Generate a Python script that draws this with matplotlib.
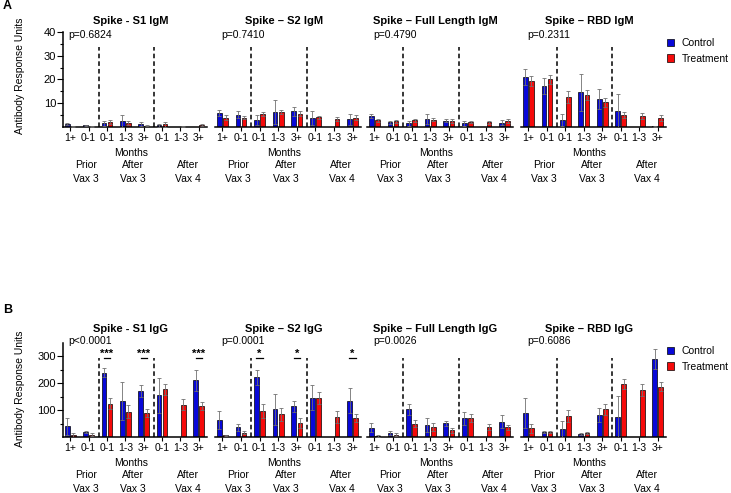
import numpy as np
import matplotlib
matplotlib.use('Agg')
import matplotlib.pyplot as plt
from matplotlib.transforms import blended_transform_factory
from matplotlib.patches import Patch

plt.rcParams['font.family'] = ['Liberation Sans', 'DejaVu Sans']

nan = np.nan
cats = ['1+', '0-1', '0-1', '1-3', '3+', '0-1', '1-3', '3+']
groups = ['Prior\nVax 3', 'After\nVax 3', 'After\nVax 4']

# IgM panel (A)
igm_titles = ['Spike - S1 IgM', 'Spike \u2013 S2 IgM', 'Spike \u2013 Full Length IgM', 'Spike \u2013 RBD IgM']
igm_p = ['p=0.6824', 'p=0.7410', 'p=0.4790', 'p=0.2311']
s1_igm_ctrl = [1.3, 0.7, 1.5, 2.7, 1.3, 0.7, nan, nan]
s1_igm_ctrl_err = [0.5, 0.3, 1.2, 2.5, 0.8, 0.6, nan, nan]
s1_igm_trt = [0.2, 0.2, 2.0, 1.8, 0.6, 1.1, 0.2, 0.8]
s1_igm_trt_err = [0.1, 0.1, 0.8, 0.8, 0.3, 1.0, 0.1, 0.4]
s2_igm_ctrl = [5.8, 5.2, 3.1, 6.2, 6.6, 3.7, nan, 3.2]
s2_igm_ctrl_err = [1.3, 1.4, 2.1, 5.1, 1.8, 2.9, nan, 2.4]
s2_igm_trt = [3.9, 3.9, 5.5, 6.3, 5.6, 4.1, 3.2, 3.9]
s2_igm_trt_err = [1.1, 0.7, 1.0, 0.7, 1.0, 0.6, 0.8, 1.0]
fl_igm_ctrl = [4.6, 2.0, 1.5, 3.2, 2.7, 1.5, nan, 1.8]
fl_igm_ctrl_err = [0.7, 0.7, 1.0, 2.1, 0.8, 1.0, nan, 1.1]
fl_igm_trt = [2.8, 2.4, 2.8, 3.1, 2.5, 2.1, 2.0, 2.5]
fl_igm_trt_err = [0.7, 0.6, 0.7, 0.7, 0.7, 0.6, 0.6, 0.7]
rbd_igm_ctrl = [21.1, 17.3, 3.1, 14.6, 11.7, 6.8, nan, 0.4]
rbd_igm_ctrl_err = [3.5, 3.4, 2.5, 7.7, 4.2, 7.1, nan, 0.2]
rbd_igm_trt = [19.3, 20.1, 12.7, 13.5, 10.4, 5.1, 4.6, 3.8]
rbd_igm_trt_err = [2.0, 2.0, 2.4, 2.0, 2.0, 1.4, 1.3, 1.1]

# IgG panel (B)
igg_titles = ['Spike - S1 IgG', 'Spike \u2013 S2 IgG', 'Spike \u2013 Full Length IgG', 'Spike \u2013 RBD IgG']
igg_p = ['p<0.0001', 'p=0.0001', 'p=0.0026', 'p=0.6086']
s1_igg_ctrl = [40, 19, 238, 134, 170, 154, nan, 211]
s1_igg_ctrl_err = [32, 5, 16, 71, 21, 66, nan, 39]
s1_igg_trt = [7, 9, 123, 94, 90, 176, 119, 114]
s1_igg_trt_err = [9, 5, 21, 24, 15, 19, 20, 15]
s2_igg_ctrl = [62, 37, 221, 103, 114, 146, nan, 134]
s2_igg_ctrl_err = [33, 13, 29, 58, 21, 46, nan, 46]
s2_igg_trt = [6, 16, 97, 84, 53, 143, 74, 71]
s2_igg_trt_err = [3, 6, 27, 25, 18, 22, 21, 16]
fl_igg_ctrl = [35, 14, 102, 46, 51, 69, nan, 57]
fl_igg_ctrl_err = [18, 7, 19, 26, 10, 25, nan, 24]
fl_igg_trt = [4, 9, 50, 38, 25, 69, 38, 36]
fl_igg_trt_err = [3, 4, 14, 15, 10, 15, 12, 9]
rbd_igg_ctrl = [89, 20, 31, 10, 82, 74, nan, 289]
rbd_igg_ctrl_err = [54, 4, 30, 4, 27, 78, nan, 37]
rbd_igg_trt = [32, 19, 77, 14, 102, 196, 175, 187]
rbd_igg_trt_err = [18, 4, 22, 3, 19, 18, 23, 16]

sig_s1 = {2: '***', 4: '***', 7: '***'}
sig_s2 = {2: '*', 4: '*', 7: '*'}

igm_data = [(s1_igm_ctrl, s1_igm_ctrl_err, s1_igm_trt, s1_igm_trt_err, None),
            (s2_igm_ctrl, s2_igm_ctrl_err, s2_igm_trt, s2_igm_trt_err, None),
            (fl_igm_ctrl, fl_igm_ctrl_err, fl_igm_trt, fl_igm_trt_err, None),
            (rbd_igm_ctrl, rbd_igm_ctrl_err, rbd_igm_trt, rbd_igm_trt_err, None)]
igg_data = [(s1_igg_ctrl, s1_igg_ctrl_err, s1_igg_trt, s1_igg_trt_err, sig_s1),
            (s2_igg_ctrl, s2_igg_ctrl_err, s2_igg_trt, s2_igg_trt_err, sig_s2),
            (fl_igg_ctrl, fl_igg_ctrl_err, fl_igg_trt, fl_igg_trt_err, None),
            (rbd_igg_ctrl, rbd_igg_ctrl_err, rbd_igg_trt, rbd_igg_trt_err, None)]

BLUE = '#0808d8'
RED = '#f50a0a'
W, H = 731, 493
fig = plt.figure(figsize=(W/100, H/100), dpi=100)

cols = [(63, 207), (215, 361), (367, 513), (521, 666)]
x = np.arange(len(cats))
off = 0.165
bw = 0.25


def draw_bars(ax, vals, errs, dx, color):
    v = np.array(vals, float)
    e = np.array(errs, float)
    ok = ~np.isnan(v)
    ax.bar(x[ok] + dx, v[ok], bw, color=color, edgecolor='black', linewidth=0.5, zorder=2)
    ax.errorbar(x[ok] + dx, v[ok], yerr=e[ok], ecolor='#707070', elinewidth=0.6,
                capsize=1.5, capthick=0.6, zorder=3, linestyle='none')


def panel(ytop, ybot, titles, pvals, data, ymax, yticks, minor, sig_y, ptop, tgap):
    axh = ybot - ytop
    for i, (x0, x1) in enumerate(cols):
        ax = fig.add_axes([x0/W, 1 - ybot/H, (x1 - x0)/W, axh/H])
        ctrl, ctrl_e, trt, trt_e, sig = data[i]
        draw_bars(ax, ctrl, ctrl_e, -off, BLUE)
        draw_bars(ax, trt, trt_e, off, RED)
        ax.set_xlim(-0.4, 7.45)
        ax.set_ylim(0, ymax)
        for xv in (1.55, 4.55):
            ax.axvline(xv, ymin=0, ymax=0.84, color='black', linestyle=(0, (3, 2)), linewidth=1.1)
        for s in ('top', 'right'):
            ax.spines[s].set_visible(False)
        ax.spines['bottom'].set_linewidth(1.1)
        ax.set_xticks(x)
        ax.set_xticklabels(cats, fontsize=7.5)
        ax.tick_params(axis='x', length=3, width=0.8, pad=1.5)
        if i == 0:
            ax.spines['left'].set_linewidth(1.1)
            ax.set_yticks(yticks)
            ax.set_yticks(minor, minor=True)
            ax.tick_params(axis='y', which='major', length=4, width=0.8, labelsize=8, pad=1)
            ax.tick_params(axis='y', which='minor', length=2, width=0.8)
        else:
            ax.spines['left'].set_visible(False)
            ax.set_yticks([])
        ax.text(0.47, 1 + tgap/axh, titles[i], transform=ax.transAxes, ha='center', va='center',
                fontsize=8, fontweight='bold')
        ax.text(0.04, ptop, pvals[i], transform=ax.transAxes, ha='left', va='center', fontsize=7.5)
        if sig:
            for k, lab in sig.items():
                ax.plot([k - 0.17, k + 0.17], [sig_y, sig_y], color='black', lw=0.9, clip_on=False)
                ax.text(k, sig_y + 4, lab, ha='center', va='baseline', fontsize=8, fontweight='bold')
        tr = blended_transform_factory(ax.transData, ax.transAxes)
        ax.text(3.3, -26/axh, 'Months', transform=tr, ha='center', va='center', fontsize=7.5)
        for gx, g in zip((0.85, 3.43, 6.4), groups):
            top, bot = g.split('\n')
            ax.text(gx, -38.5/axh, top, transform=tr, ha='center', va='center', fontsize=7.5)
            ax.text(gx, -52.5/axh, bot, transform=tr, ha='center', va='center', fontsize=7.5)


panel(32, 127, igm_titles, igm_p, igm_data, 40, [10, 20, 30, 40], [5, 15, 25, 35], None, 0.965, 10.5)
panel(342.5, 437, igg_titles, igg_p, igg_data, 350, [100, 200, 300], [50, 150, 250], 294, 1.012, 13)

fig.text(3/W, 1 - 6/H, 'A', fontsize=9, fontweight='bold', ha='left', va='center')
fig.text(3/W, 1 - 310/H, 'B', fontsize=9, fontweight='bold', ha='left', va='center')
fig.text(20/W, 1 - 76/H, 'Antibody Response Units', rotation=90, ha='center', va='center', fontsize=7.5)
fig.text(20/W, 1 - 389/H, 'Antibody Response Units', rotation=90, ha='center', va='center', fontsize=7.5)

handles = [Patch(facecolor=BLUE, edgecolor='black', linewidth=0.5, label='Control'),
           Patch(facecolor=RED, edgecolor='black', linewidth=0.5, label='Treatment')]
for ly in (38, 346):
    fig.legend(handles=handles, loc='upper left', bbox_to_anchor=(667/W, 1 - ly/H),
               bbox_transform=fig.transFigure, frameon=False, fontsize=7.5,
               handlelength=0.7, handleheight=0.7, handletextpad=0.7, labelspacing=0.55,
               borderaxespad=0, borderpad=0)

fig.savefig('out.png', dpi=100)
